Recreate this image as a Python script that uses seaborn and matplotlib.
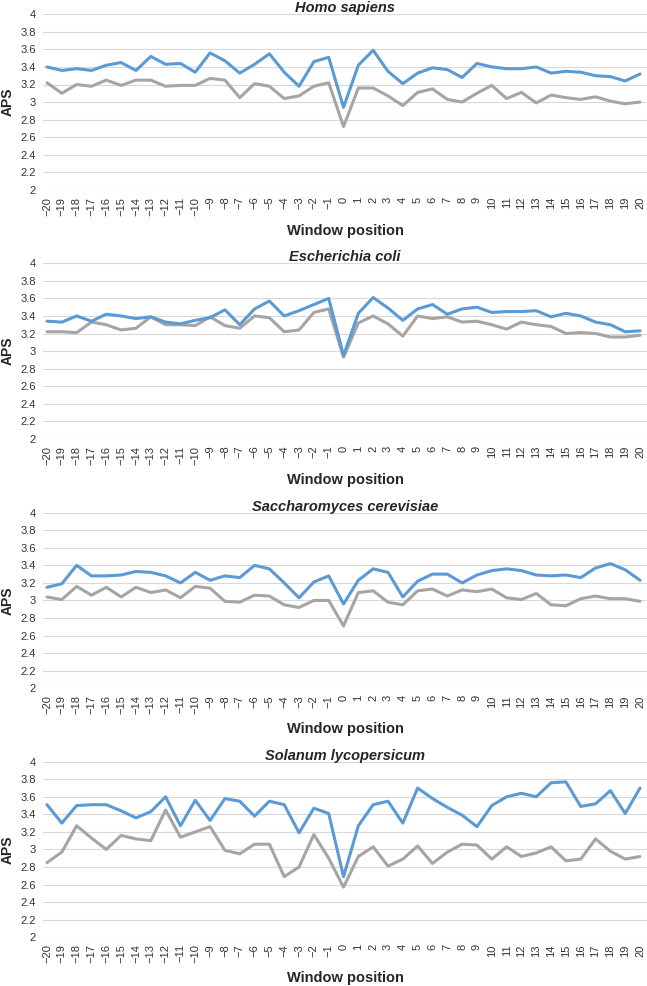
import numpy as np
import pandas as pd
import seaborn as sns
import matplotlib
matplotlib.use("Agg")
import matplotlib.pyplot as plt

sns.set_style("white")
plt.rcParams['font.family'] = ['Liberation Sans', 'DejaVu Sans']

# window positions on the x axis
positions = list(range(-20, 21))
tick_labels = [str(p).replace('-', '\u2212') for p in positions]
y_ticks = [2.0, 2.2, 2.4, 2.6, 2.8, 3.0, 3.2, 3.4, 3.6, 3.8, 4.0]
y_tick_labels = ['2', '2.2', '2.4', '2.6', '2.8', '3', '3.2', '3.4', '3.6', '3.8', '4']

species = ['Homo sapiens', 'Escherichia coli', 'Saccharomyces cerevisiae', 'Solanum lycopersicum']

# APS values (blue line / grey line)
homo_blue = [3.40, 3.36, 3.38, 3.36, 3.42, 3.45, 3.36, 3.52, 3.43, 3.44, 3.34, 3.56, 3.47, 3.33, 3.43, 3.55, 3.34, 3.18, 3.46, 3.51,
             2.94, 3.42, 3.59, 3.35, 3.21, 3.33, 3.39, 3.37, 3.28, 3.44, 3.40, 3.38, 3.38, 3.40, 3.33, 3.35, 3.34, 3.30, 3.29, 3.24, 3.32]
homo_grey = [3.22, 3.10, 3.20, 3.18, 3.25, 3.19, 3.25, 3.25, 3.18, 3.19, 3.19, 3.27, 3.25, 3.05, 3.21, 3.18, 3.04, 3.07, 3.18, 3.22,
             2.72, 3.16, 3.16, 3.07, 2.96, 3.11, 3.15, 3.03, 3.00, 3.10, 3.19, 3.04, 3.11, 2.99, 3.08, 3.05, 3.03, 3.06, 3.01, 2.98, 3.00]

ecoli_blue = [3.34, 3.33, 3.40, 3.34, 3.42, 3.40, 3.37, 3.39, 3.33, 3.31, 3.35, 3.38, 3.47, 3.30, 3.48, 3.57, 3.40, 3.46, 3.53, 3.60,
              2.95, 3.43, 3.61, 3.49, 3.35, 3.48, 3.53, 3.42, 3.48, 3.50, 3.44, 3.45, 3.45, 3.46, 3.39, 3.43, 3.40, 3.33, 3.30, 3.22, 3.23]
ecoli_grey = [3.22, 3.22, 3.21, 3.33, 3.30, 3.24, 3.26, 3.39, 3.30, 3.30, 3.29, 3.39, 3.29, 3.26, 3.40, 3.38, 3.22, 3.24, 3.44, 3.48,
              2.93, 3.32, 3.40, 3.31, 3.17, 3.40, 3.37, 3.39, 3.33, 3.34, 3.30, 3.25, 3.33, 3.30, 3.28, 3.20, 3.21, 3.20, 3.16, 3.16, 3.18]

yeast_blue = [3.15, 3.19, 3.40, 3.28, 3.28, 3.29, 3.33, 3.32, 3.28, 3.20, 3.32, 3.23, 3.28, 3.26, 3.40, 3.36, 3.20, 3.03, 3.21, 3.28,
              2.96, 3.23, 3.36, 3.32, 3.04, 3.22, 3.30, 3.30, 3.20, 3.29, 3.34, 3.36, 3.34, 3.29, 3.28, 3.29, 3.26, 3.37, 3.42, 3.35, 3.23]
yeast_grey = [3.04, 3.01, 3.16, 3.06, 3.15, 3.04, 3.15, 3.09, 3.12, 3.03, 3.16, 3.14, 2.99, 2.98, 3.06, 3.05, 2.95, 2.92, 3.00, 3.00,
              2.71, 3.09, 3.11, 2.98, 2.95, 3.11, 3.13, 3.05, 3.12, 3.10, 3.13, 3.03, 3.01, 3.08, 2.95, 2.94, 3.02, 3.05, 3.02, 3.02, 2.99]

tomato_blue = [3.51, 3.30, 3.50, 3.51, 3.51, 3.44, 3.36, 3.43, 3.60, 3.27, 3.56, 3.33, 3.58, 3.55, 3.38, 3.55, 3.51, 3.19, 3.47, 3.41,
               2.69, 3.27, 3.51, 3.55, 3.30, 3.70, 3.58, 3.48, 3.39, 3.26, 3.50, 3.60, 3.64, 3.60, 3.76, 3.77, 3.49, 3.52, 3.67, 3.41, 3.70]
tomato_grey = [2.85, 2.97, 3.27, 3.13, 3.00, 3.16, 3.12, 3.10, 3.45, 3.14, 3.20, 3.26, 2.99, 2.95, 3.06, 3.06, 2.69, 2.80, 3.17, 2.90,
               2.57, 2.92, 3.03, 2.81, 2.89, 3.04, 2.84, 2.97, 3.06, 3.05, 2.89, 3.03, 2.92, 2.96, 3.03, 2.87, 2.89, 3.12, 2.98, 2.89, 2.92]

blue_series = [homo_blue, ecoli_blue, yeast_blue, tomato_blue]
grey_series = [homo_grey, ecoli_grey, yeast_grey, tomato_grey]

W, H = 647, 986
fig = plt.figure(figsize=(W / 100, H / 100), dpi=100)

panel_tops = [14.3, 263.3, 512.7, 761.7]
panel_h = 175.5
ax_left, ax_right = 43, 647

for name, top, blue, grey in zip(species, panel_tops, blue_series, grey_series):
    ax = fig.add_axes([ax_left / W, 1 - (top + panel_h) / H, (ax_right - ax_left) / W, panel_h / H])
    df = pd.DataFrame({'pos': positions, 'blue': blue, 'grey': grey})
    df = df.melt('pos', var_name='series', value_name='APS')
    sns.lineplot(data=df, x='pos', y='APS', hue='series', hue_order=['grey', 'blue'],
                 palette={'blue': '#5B9BD5', 'grey': '#A5A5A5'}, linewidth=2.2,
                 legend=False, ax=ax)

    ax.set_xlim(-20.27, 20.47)
    ax.set_ylim(2, 4)
    ax.set_xticks(positions)
    ax.set_xticklabels(tick_labels, rotation=90)
    ax.set_yticks(y_ticks)
    ax.set_yticklabels(y_tick_labels)
    ax.tick_params(length=0, labelsize=8, colors='#333333')
    ax.tick_params(axis='x', pad=5)
    ax.tick_params(axis='y', pad=5)
    ax.yaxis.grid(True, color='#D9D9D9', linewidth=0.8)
    ax.set_axisbelow(True)
    for s in ax.spines.values():
        s.set_visible(False)

    ax.set_title(name, fontsize=10.5, fontweight='bold', fontstyle='italic', pad=1.5)
    ax.set_xlabel('Window position', fontsize=10.5, fontweight='bold')
    ax.xaxis.set_label_coords(0.5, -0.234)
    ax.xaxis.label.set_va('center')
    ax.set_ylabel('APS', fontsize=10, fontweight='bold')
    ax.yaxis.set_label_coords(-0.058, 0.5)
    ax.yaxis.label.set_va('center')

fig.savefig('out.png', dpi=100)
